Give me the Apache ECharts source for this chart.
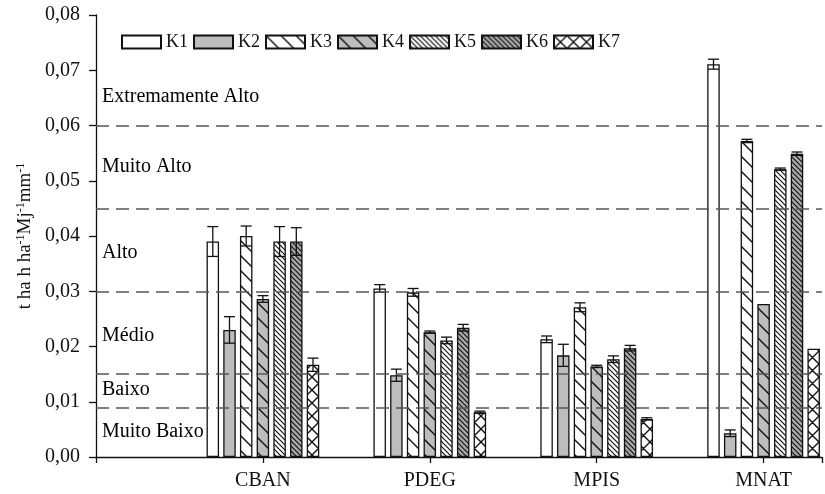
<!DOCTYPE html>
<html>
<head>
<meta charset="utf-8">
<script src="https://cdn.jsdelivr.net/npm/echarts@6/dist/echarts.min.js"></script>
<style>
html,body{margin:0;padding:0;background:#fff;}
#chart{width:825px;height:494px;}
</style>
</head>
<body>
<div id="chart"></div>
<script>
// ---------- data ----------
const categories = ['CBAN', 'PDEG', 'MPIS', 'MNAT'];
const catPos = [1, 2, 3, 4];
const seriesNames = ['K1', 'K2', 'K3', 'K4', 'K5', 'K6', 'K7'];

const K1 = [0.0390, 0.0305, 0.0213, 0.0711];
const K2 = [0.0230, 0.0148, 0.0184, 0.0043];
const K3 = [0.0400, 0.0298, 0.0271, 0.0572];
const K4 = [0.0286, 0.0226, 0.0164, 0.0277];
const K5 = [0.0390, 0.0211, 0.0177, 0.0521];
const K6 = [0.0390, 0.0234, 0.0197, 0.0549];
const K7 = [0.0167, 0.0081, 0.0069, 0.0196];

const E1 = [0.0027, 0.0007, 0.0006, 0.0009];
const E2 = [0.0024, 0.0011, 0.0020, 0.0006];
const E3 = [0.0018, 0.0007, 0.0008, 0.0003];
const E4 = [0.0006, 0.0002, 0.0002, 0.0000];
const E5 = [0.0027, 0.0006, 0.0006, 0.0002];
const E6 = [0.0025, 0.0006, 0.0005, 0.0003];
const E7 = [0.0012, 0.0002, 0.0002, 0.0000];

const yTicks = [0, 0.01, 0.02, 0.03, 0.04, 0.05, 0.06, 0.07, 0.08];
const thresholds = [0.009, 0.015, 0.030, 0.045, 0.060];
const zoneNames = ['Muito Baixo', 'Baixo', 'Médio', 'Alto', 'Muito Alto', 'Extremamente Alto'];
const zoneLabelY = [0.0045, 0.0121, 0.0219, 0.0369, 0.0525, 0.0652];

const values = [K1, K2, K3, K4, K5, K6, K7];
const errors = [E1, E2, E3, E4, E5, E6, E7];

// ---------- styles ----------
const FONT = "'Liberation Serif', 'Times New Roman', serif";
const INK = '#111111';
const GRAY = '#bdbdbd';
const BAR_W = 12.5;
const BAR_GAP_PX = 4.2;
const PITCH = BAR_W + BAR_GAP_PX;

function makePattern(bg, size, mode, lw) {
  const c = document.createElement('canvas');
  c.width = size; c.height = size;
  const g = c.getContext('2d');
  g.fillStyle = bg; g.fillRect(0, 0, size, size);
  g.strokeStyle = '#111'; g.lineWidth = lw;
  g.beginPath();
  g.moveTo(-size, 0); g.lineTo(size, 2 * size);
  g.moveTo(0, 0); g.lineTo(size, size);
  g.moveTo(0, -size); g.lineTo(2 * size, size);
  if (mode === 'cross') {
    g.moveTo(0, size); g.lineTo(size, 0);
    g.moveTo(-size, size); g.lineTo(size, -size);
    g.moveTo(0, 2 * size); g.lineTo(2 * size, 0);
  }
  g.stroke();
  return { image: c, repeat: 'repeat' };
}

const fills = [
  '#ffffff',
  GRAY,
  makePattern('#ffffff', 15, 'line', 1.4),
  makePattern(GRAY, 15, 'line', 1.4),
  makePattern('#ffffff', 5, 'line', 1.2),
  makePattern('#a9a9a9', 5, 'line', 1.2),
  makePattern('#ffffff', 13, 'cross', 1.4)
];

const series = [];
seriesNames.forEach((name, k) => {
  series.push({
    name: name,
    type: 'bar',
    barWidth: BAR_W,
    barGap: (BAR_GAP_PX / BAR_W * 100).toFixed(1) + '%',
    data: values[k].map((v, i) => [catPos[i], v]),
    itemStyle: { color: fills[k], borderColor: INK, borderWidth: 1.3 },
    z: 2
  });
});

seriesNames.forEach((name, k) => {
  const off = (k - 3) * PITCH;
  series.push({
    name: name + ' err',
    type: 'custom',
    z: 4,
    silent: true,
    data: values[k].map((v, i) => [catPos[i], v, errors[k][i]]),
    renderItem: function (params, api) {
      const x = api.value(0), v = api.value(1), e = api.value(2);
      if (!e) return null;
      const top = api.coord([x, v + e]);
      const bot = api.coord([x, v - e]);
      const cx = top[0] + off;
      const hw = 5.5;
      const st = { stroke: INK, lineWidth: 1.3 };
      return {
        type: 'group',
        children: [
          { type: 'line', shape: { x1: cx, y1: top[1], x2: cx, y2: bot[1] }, style: st },
          { type: 'line', shape: { x1: cx - hw, y1: top[1], x2: cx + hw, y2: top[1] }, style: st },
          { type: 'line', shape: { x1: cx - hw, y1: bot[1], x2: cx + hw, y2: bot[1] }, style: st }
        ]
      };
    }
  });
});

series.push({
  name: 'zones',
  type: 'scatter',
  symbolSize: 0,
  silent: true,
  z: 5,
  itemStyle: { opacity: 1 },
  data: zoneNames.map((n, i) => ({ name: n, value: [0, zoneLabelY[i]] })),
  label: {
    show: true, position: 'right', distance: 6,
    formatter: p => p.name,
    fontFamily: FONT, fontSize: 20, color: '#000', opacity: 1
  },
  markLine: {
    silent: true,
    precision: 4,
    symbol: ['none', 'none'],
    label: { show: false },
    lineStyle: { color: '#555', width: 1.5, type: [13, 7] },
    data: thresholds.map(t => ({ yAxis: t })),
    z: 6
  }
});

const chart = echarts.init(document.getElementById('chart'), null, { renderer: 'canvas' });
chart.setOption({
  animation: false,
  backgroundColor: '#fff',
  textStyle: { fontFamily: FONT },
  grid: { left: 96, right: 0, top: 15, bottom: 37, containLabel: false },
  legend: {
    data: seriesNames,
    left: 121, top: 33, padding: 0,
    itemWidth: 39, itemHeight: 13, itemGap: 5,
    icon: 'rect',
    textStyle: { fontFamily: FONT, fontSize: 18, color: INK },
    selectedMode: false
  },
  xAxis: {
    type: 'value',
    min: 0, max: 4.35, interval: 1,
    axisLine: { show: true, lineStyle: { color: INK, width: 1.3 } },
    axisTick: { show: true, inside: false, length: 6, lineStyle: { color: INK, width: 1.3 } },
    splitLine: { show: false },
    axisLabel: {
      margin: 14,
      fontFamily: FONT, fontSize: 20, color: INK,
      formatter: function (v) {
        const idx = catPos.indexOf(v);
        return idx >= 0 ? categories[idx] : '';
      }
    }
  },
  yAxis: {
    type: 'value',
    min: yTicks[0], max: yTicks[yTicks.length - 1], interval: 0.01,
    name: '{n|t ha h ha}{s|-1}{n|Mj}{s|-1}{n|mm}{s|-1}',
    nameLocation: 'middle', nameGap: 60, nameRotate: 90,
    nameTextStyle: {
      fontFamily: FONT, fontSize: 19, color: INK,
      rich: {
        n: { fontFamily: FONT, fontSize: 19, color: INK, verticalAlign: 'bottom' },
        s: { fontFamily: FONT, fontSize: 12, color: INK, verticalAlign: 'top' }
      }
    },
    axisLine: { show: true, lineStyle: { color: INK, width: 1.3 } },
    axisTick: { show: true, inside: false, length: 7, lineStyle: { color: INK, width: 1.3 } },
    splitLine: { show: false },
    axisLabel: {
      margin: 16,
      fontFamily: FONT, fontSize: 20, color: INK,
      formatter: v => v.toFixed(2).replace('.', ',')
    }
  },
  series: series
});
</script>
</body>
</html>
